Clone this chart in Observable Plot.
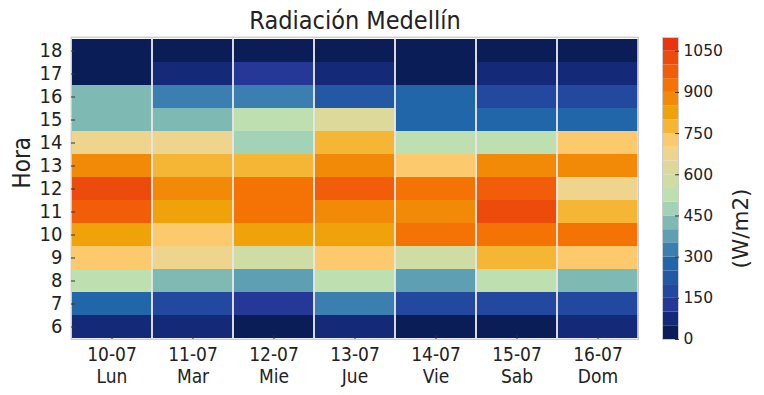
<!DOCTYPE html>
<html>
<head>
<meta charset="utf-8">
<script src="https://cdn.jsdelivr.net/npm/d3@7"></script>
<script src="https://cdn.jsdelivr.net/npm/@observablehq/plot@0.6"></script>
<style>
  html, body { margin: 0; padding: 0; background: #fff; }
  #wrap { position: relative; width: 764px; height: 395px; }
  #wrap > svg, #wrap > figure { position: absolute; left: 0; top: 0; margin: 0; }
</style>
</head>
<body>
<div id="wrap"></div>
<script>
// ---- data ----
const days = ["10-07", "11-07", "12-07", "13-07", "14-07", "15-07", "16-07"];
const dayNames = ["Lun", "Mar", "Mie", "Jue", "Vie", "Sab", "Dom"];
const hours = [6, 7, 8, 9, 10, 11, 12, 13, 14, 15, 16, 17, 18];

// radiation (W/m2) per day, hours 6..18
const lun = [80, 270, 520, 720, 820, 970, 1020, 870, 680, 420, 420, 20, 20];
const mar = [80, 170, 420, 670, 720, 820, 870, 770, 680, 420, 320, 80, 20];
const mie = [20, 130, 370, 580, 820, 920, 920, 770, 470, 520, 320, 130, 20];
const jue = [80, 320, 520, 720, 820, 870, 970, 870, 770, 620, 220, 80, 20];
const vie = [20, 170, 370, 580, 920, 870, 920, 720, 520, 270, 270, 20, 20];
const sab = [20, 170, 520, 770, 920, 1020, 970, 870, 520, 270, 170, 80, 20];
const dom = [80, 170, 420, 720, 920, 770, 670, 870, 720, 270, 170, 80, 20];
const series = [lun, mar, mie, jue, vie, sab, dom];

// colour bar
const bandEdges = [0, 50, 100, 150, 200, 250, 300, 350, 400, 450, 500, 550,
                   600, 650, 700, 750, 800, 850, 900, 950, 1000, 1050, 1100];
const cbTicks = [0, 150, 300, 450, 600, 750, 900, 1050];
const palette = ["#0a1d57", "#142a78", "#253898", "#23489f", "#2258a4", "#2066a9",
                 "#3a7fb0", "#5e9fb4", "#7fb9b3", "#a2d3b6", "#bedfb0", "#cfdda5",
                 "#ddd99a", "#efd48e", "#fcca6c", "#f5b535", "#f0a20b", "#f38a07",
                 "#f57205", "#f15d09", "#ec4b0b", "#e8350f"];

// ---- derived tables ----
const cells = [];
days.forEach((d, i) => hours.forEach((h, j) => cells.push({day: d, hour: h, value: series[i][j]})));
const bands = bandEdges.slice(0, -1).map((lo, i) => ({lo, hi: bandEdges[i + 1]}));
const nameOf = new Map(days.map((d, i) => [d, dayNames[i]]));
const thresholds = bandEdges.slice(1, -1);

const F = "'DejaVu Sans Condensed', 'Liberation Sans Narrow', 'DejaVu Sans', sans-serif";
const W = 764, H = 395;

const main = Plot.plot({
  width: W, height: H,
  marginLeft: 71, marginRight: 126, marginTop: 37, marginBottom: 56,
  style: {fontFamily: F, fontSize: "19px", color: "#222", background: "transparent", overflow: "visible"},
  x: {type: "band", domain: days, padding: 0},
  y: {type: "band", domain: hours.slice().reverse(), padding: 0},
  color: {type: "threshold", domain: thresholds, range: palette},
  marks: [
    Plot.cell(cells, {x: "day", y: "hour", fill: "value"}),
    Plot.cell(days, {x: d => d, stroke: "#e6e6e6", strokeWidth: 1.5, fill: "none"}),
    Plot.frame({stroke: "#cccccc"}),
    Plot.axisX({anchor: "bottom", tickSize: -4, tickPadding: 10, label: null,
                tickFormat: d => d + "\n" + nameOf.get(d), lineHeight: 1.15, stroke: "#333"}),
    Plot.axisY({anchor: "left", tickSize: -4, tickPadding: 13, label: null, stroke: "#333", fontSize: 20}),
    Plot.text(["Hora"], {frameAnchor: "left", dx: -49, rotate: -90, fontSize: 24, fill: "#222"}),
    Plot.text(["Radiación Medellín"], {frameAnchor: "top", dy: -17, lineAnchor: "middle", fontSize: 25, fill: "#222"})
  ]
});

const cbar = Plot.plot({
  width: W, height: H,
  marginLeft: 662, marginRight: 86, marginTop: 37, marginBottom: 56,
  style: {fontFamily: "'DejaVu Sans', sans-serif", fontSize: "15.5px", color: "#222", background: "transparent", overflow: "visible"},
  y: {domain: [0, 1100]},
  color: {type: "threshold", domain: thresholds, range: palette},
  marks: [
    Plot.rect(bands, {y1: "lo", y2: "hi", fill: "lo"}),
    Plot.frame({stroke: "#cccccc"}),
    Plot.axisY({anchor: "right", ticks: cbTicks, tickFormat: "d", tickSize: -4, tickPadding: 9, label: null, stroke: "#333"}),
    Plot.text(["(W/m2)"], {frameAnchor: "right", dx: 63, rotate: -90, fontSize: 21.5, fill: "#222"})
  ]
});

const wrap = document.getElementById("wrap");
wrap.appendChild(main);
wrap.appendChild(cbar);
</script>
</body>
</html>
